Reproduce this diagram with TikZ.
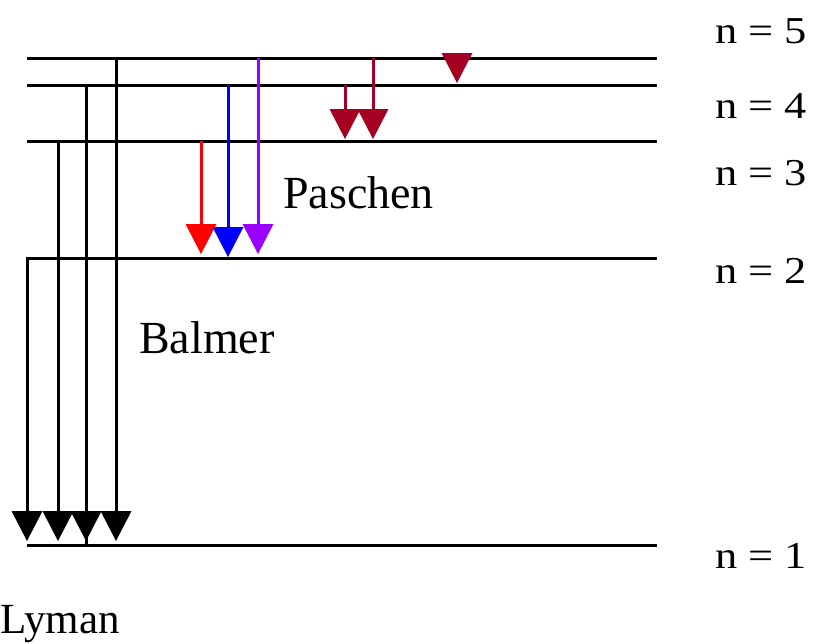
\documentclass[tikz,border=0pt]{standalone}
\usepackage{fontspec}
\setmainfont{Liberation Serif}
\usetikzlibrary{arrows.meta}
\definecolor{pasch}{HTML}{A50021}
\definecolor{balred}{HTML}{FF0000}
\definecolor{balblue}{HTML}{0000FF}
\definecolor{balpurp}{HTML}{9900FF}
\tikzset{
  level/.style={line width=3pt},
  trans/.style={line width=3pt,-{Triangle[width=31pt,length=30pt,line width=0pt]}},
  nlab/.style={anchor=base west,inner sep=0pt,font=\fontsize{38pt}{40pt}\selectfont},
  serieslab/.style={anchor=base west,inner sep=0pt,font=\fontsize{46pt}{50pt}\selectfont},
}
\begin{document}
\begin{tikzpicture}[x=1pt,y=-1pt]
\useasboundingbox (0,0) rectangle (817,643);
% level endpoints
\foreach \n/\y in {1/545,2/258,3/141,4/85,5/58}{
  \coordinate (L\n a) at (27,\y);
  \coordinate (L\n b) at (657,\y);
}
\draw[level] (L1a) -- (L1b);
\draw[level] (L2a) -- (L2b);
\draw[level] (L3a) -- (L3b);
\draw[level] (L4a) -- (L4b);
\draw[level] (L5a) -- (L5b);
% Lyman
\coordinate (ly2) at (27,256.5);   \coordinate (ly2e) at (27,541);
\coordinate (ly3) at (58,141);   \coordinate (ly3e) at (58,541);
\coordinate (ly4) at (86,85);    \coordinate (ly4e) at (86,541);
\coordinate (ly5) at (116,58);   \coordinate (ly5e) at (116,541);
\coordinate (ly4x) at (86,530);  \coordinate (ly4y) at (86,545);
\draw[level] (ly4x) -- (ly4y);
\draw[trans] (ly2) -- (ly2e);
\draw[trans] (ly3) -- (ly3e);
\draw[trans] (ly4) -- (ly4e);
\draw[trans] (ly5) -- (ly5e);
% Balmer
\coordinate (ba3) at (201,141);  \coordinate (ba3e) at (201,254);
\coordinate (ba4) at (228,85);   \coordinate (ba4e) at (228,257);
\coordinate (ba5) at (258,58);   \coordinate (ba5e) at (258,254);
\draw[trans,balred] (ba3) -- (ba3e);
\draw[trans,balblue] (ba4) -- (ba4e);
\draw[trans,balpurp] (ba5) -- (ba5e);
% Paschen
\coordinate (pa4) at (345,85);   \coordinate (pa4e) at (345,139);
\coordinate (pa5) at (373,58);   \coordinate (pa5e) at (373,139);
\draw[trans,pasch] (pa4) -- (pa4e);
\draw[trans,pasch] (pa5) -- (pa5e);
% Brackett head
\coordinate (br5) at (457,53);   \coordinate (br5e) at (457,83);
\draw[trans,pasch] (br5) -- (br5e);
% labels
\node[nlab] (n5) at (715,43)  {\scalebox{1.17}[1]{n = 5}};
\node[nlab] (n4) at (715,118) {\scalebox{1.17}[1]{n = 4}};
\node[nlab] (n3) at (715,185) {\scalebox{1.17}[1]{n = 3}};
\node[nlab] (n2) at (715,283) {\scalebox{1.17}[1]{n = 2}};
\node[nlab] (n1) at (715,568) {\scalebox{1.17}[1]{n = 1}};
\node[serieslab] (pasch) at (283,208) {Paschen};
\node[serieslab] (balm) at (139,353) {Balmer};
\node[serieslab,font=\fontsize{43pt}{48pt}\selectfont] (lym) at (0,633) {Lyman};
\end{tikzpicture}
\end{document}
